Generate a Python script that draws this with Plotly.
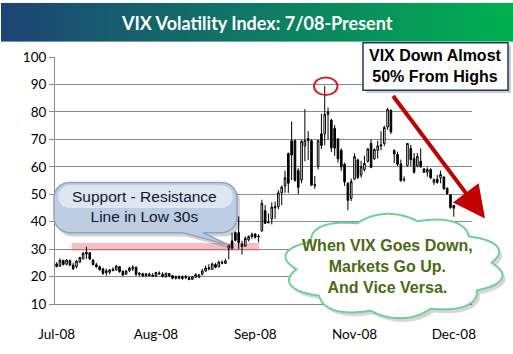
import base64
import numpy as np
import pandas as pd
import plotly.graph_objects as go

# ---------------- data ----------------
holidays = ["2008-07-04", "2008-09-01", "2008-11-27"]
dates = [d for d in pd.bdate_range("2008-07-01", "2008-12-19") if d.strftime("%Y-%m-%d") not in holidays]

open_ = [24.6, 23.8, 25.9, 24.5, 25.8, 24.2, 23.6, 25.3, 26.5, 28.2, 28.7, 26.0, 24.3, 23.6, 22.8, 21.4, 21.6, 22.6, 22.4, 23.6, 21.9, 20.9,
         22.1, 22.8, 23.4, 20.8, 21.0, 20.3, 20.9, 20.5, 20.2, 21.3, 20.8, 19.9, 21.1, 20.3, 19.4, 20.0, 19.3, 19.9, 19.6, 19.0, 19.8,
         19.8, 20.8, 22.0, 23.2, 22.6, 24.4, 23.5, 25.2, 24.8, 30.3, 33.0, 36.0, 36.0, 31.8, 31.2, 33.4, 34.6, 35.5, 34.5, 36.7, 44.0,
         39.6, 41.0, 45.5, 45.5, 50.5, 53.0, 64.8, 69.5, 69.5, 58.6, 55.2, 67.6, 69.5, 69.5, 53.5, 60.0, 72.0, 72.0, 79.1, 77.0, 74.0, 70.1, 66.0,
         60.9, 54.0, 48.5, 55.5, 62.5, 57.0, 59.0, 62.0, 68.5, 63.0, 66.0, 68.0, 68.5, 74.5, 80.5, 66.0, 64.5, 61.0, 55.5,
         60.5, 66.7, 63.0, 60.3, 62.0, 59.2, 58.0, 59.0, 54.3, 55.5, 56.0, 56.3, 52.2, 49.8, 45.9]
high_ = [25.2, 26.6, 26.0, 26.4, 26.2, 25.0, 26.0, 27.2, 29.0, 30.8, 29.0, 26.3, 25.0, 24.0, 23.2, 22.9, 22.8, 23.4, 24.2, 23.8, 22.3, 22.4,
         23.6, 24.2, 23.6, 21.6, 21.4, 21.3, 21.4, 21.2, 21.7, 21.9, 21.6, 21.4, 21.3, 20.6, 20.3, 20.4, 20.4, 20.6, 20.0, 20.2, 21.2,
         21.0, 22.8, 24.0, 24.5, 25.1, 24.9, 25.8, 25.9, 26.5, 31.7, 36.0, 36.4, 41.9, 33.0, 34.6, 35.0, 36.0, 35.8, 35.4, 48.0, 46.0,
         43.0, 47.0, 47.3, 51.5, 53.2, 58.6, 65.2, 76.5, 70.0, 59.5, 69.9, 81.0, 73.0, 70.0, 56.6, 69.8, 79.3, 89.5, 81.6, 77.5, 75.2, 70.5, 66.7,
         61.5, 54.3, 55.7, 64.9, 63.0, 62.2, 64.0, 66.7, 70.0, 66.7, 69.5, 73.0, 75.0, 81.5, 81.0, 66.3, 65.5, 62.6, 56.5,
         68.6, 68.0, 65.0, 65.0, 66.7, 59.5, 59.8, 59.5, 55.7, 57.0, 58.6, 56.5, 52.4, 50.0, 46.0]
low_ = [23.3, 23.5, 24.0, 24.1, 23.8, 22.4, 23.0, 24.9, 26.2, 26.4, 26.0, 24.0, 23.2, 22.2, 20.6, 20.3, 20.8, 21.9, 22.2, 21.4, 20.2, 20.6,
        21.6, 22.0, 20.3, 20.2, 19.9, 19.8, 20.0, 19.9, 19.9, 20.7, 19.7, 19.7, 19.9, 19.0, 18.9, 19.0, 18.8, 19.2, 18.7, 18.8, 19.5,
        19.4, 20.4, 21.8, 22.3, 22.6, 23.0, 23.4, 24.5, 24.6, 26.3, 29.8, 32.8, 30.0, 28.0, 30.8, 32.8, 33.7, 33.9, 32.5, 36.2, 39.2,
        39.4, 39.0, 41.0, 44.6, 46.0, 50.5, 50.5, 55.1, 54.5, 50.0, 54.0, 62.0, 62.5, 53.0, 52.0, 59.0, 66.5, 67.8, 70.0, 65.4, 64.0, 61.5, 58.5,
        53.0, 44.2, 47.5, 55.1, 55.5, 56.0, 58.3, 61.5, 59.5, 62.5, 63.0, 66.0, 67.5, 73.5, 72.0, 61.3, 60.3, 54.6, 54.5,
        60.0, 60.3, 57.5, 59.8, 59.6, 57.8, 56.4, 55.5, 53.4, 53.8, 54.0, 51.6, 49.9, 44.7, 41.8]
close_ = [23.7, 25.9, 24.4, 26.0, 24.2, 22.8, 25.6, 26.9, 28.5, 28.9, 26.4, 24.4, 23.6, 22.5, 21.2, 22.1, 22.4, 22.2, 23.8, 21.8, 20.6, 22.0,
          23.1, 23.4, 20.7, 21.2, 20.3, 21.0, 20.4, 20.2, 21.5, 21.0, 20.0, 21.2, 20.2, 19.4, 20.0, 19.3, 19.9, 19.6, 18.9, 19.9, 20.7,
          20.6, 22.0, 23.1, 22.8, 24.6, 23.4, 25.3, 24.9, 25.7, 31.5, 30.3, 33.2, 32.4, 31.0, 33.9, 34.6, 35.4, 34.3, 34.7, 46.7, 39.4,
          39.8, 45.3, 45.1, 50.5, 52.6, 56.0, 54.0, 64.3, 55.1, 52.5, 69.3, 69.5, 70.3, 53.3, 53.1, 69.5, 67.8, 79.1, 80.0, 66.9, 66.8, 62.9, 59.9,
          54.5, 47.7, 54.6, 63.7, 56.1, 60.0, 61.2, 66.5, 59.8, 66.3, 67.6, 67.6, 74.3, 80.9, 72.7, 64.7, 60.9, 54.9, 55.3,
          68.5, 62.6, 58.0, 63.8, 60.0, 58.0, 59.0, 56.0, 55.3, 54.3, 57.2, 52.0, 50.2, 45.2, 44.9]

tick_idx = [0, 30, 60, 90, 120]
tick_text = [dates[i].strftime("%b-%y") for i in tick_idx]
band_low, band_high = 29.4, 32.2

# ---------------- geometry helpers (pixel -> paper) ----------------
W, H = 513, 354
L, R, T, B = 55, 472, 57, 317


def px(x):
    return (x - L) / (R - L)


def py(y):
    return (B - y) / (B - T)


def poly(points, dx=0, dy=0):
    return "M" + "L".join(f"{px(x + dx):.5f},{py(y + dy):.5f}" for x, y in points) + "Z"


def rrect_points(x0, y0, x1, y1, r, tail=None):
    pts = []
    def arc(cx, cy, a0, a1):
        for a in np.linspace(a0, a1, 10):
            pts.append((cx + r * np.cos(a), cy + r * np.sin(a)))
    arc(x0 + r, y0 + r, np.pi, 1.5 * np.pi)
    arc(x1 - r, y0 + r, 1.5 * np.pi, 2 * np.pi)
    arc(x1 - r, y1 - r, 0, 0.5 * np.pi)
    if tail:
        pts.extend(tail)
    arc(x0 + r, y1 - r, 0.5 * np.pi, np.pi)
    return pts


x = list(range(len(dates)))

fig = go.Figure()
fig.add_trace(go.Candlestick(
    x=x, open=open_, high=high_, low=low_, close=close_,
    increasing=dict(line=dict(color="black", width=1), fillcolor="white"),
    decreasing=dict(line=dict(color="black", width=1), fillcolor="black"),
    whiskerwidth=0, hoverinfo="skip", showlegend=False,
))

shapes = []
# pink support band
shapes.append(dict(type="rect", xref="x", yref="y", x0=4.5, x1=61.2, y0=band_low, y1=band_high,
                   fillcolor="rgba(247,160,165,0.7)", line=dict(width=0), layer="below"))

# callout (support - resistance)
tail = [(203, 242), (229, 255), (183, 242)]
cpts = rrect_points(54, 189, 237, 242, 16, tail)
shapes.append(dict(type="path", xref="paper", yref="paper", path=poly(cpts, 3, 4),
                   fillcolor="rgba(0,0,0,0.18)", line=dict(width=0)))
shapes.append(dict(type="path", xref="paper", yref="paper", path=poly(cpts),
                   fillcolor="#bccde4", line=dict(color="#8ea4c4", width=1.5)))
hpts = rrect_points(58, 192, 233, 216, 12)
shapes.append(dict(type="path", xref="paper", yref="paper", path=poly(hpts),
                   fillcolor="rgba(255,255,255,0.5)", line=dict(width=0)))

# cloud
th = np.linspace(0, 2 * np.pi, 500)
f = 0.88 + 0.12 * np.abs(np.sin(5 * th + 0.35))
cloud = list(zip(394 + 111 * f * np.cos(th), 277 + 55 * f * np.sin(th)))
shapes.append(dict(type="path", xref="paper", yref="paper", path=poly(cloud, 3, 4),
                   fillcolor="rgba(0,0,0,0.16)", line=dict(width=0)))
shapes.append(dict(type="path", xref="paper", yref="paper", path=poly(cloud),
                   fillcolor="white", line=dict(color="#6fcf9c", width=2)))

# top-right box
shapes.append(dict(type="rect", xref="paper", yref="paper", x0=px(366), x1=px(511), y0=py(95), y1=py(45),
                   fillcolor="rgba(0,0,0,0.2)", line=dict(width=0)))
shapes.append(dict(type="rect", xref="paper", yref="paper", x0=px(363), x1=px(508), y0=py(92), y1=py(42),
                   fillcolor="white", line=dict(color="#1f3864", width=1.5)))

# red circle at peak
shapes.append(dict(type="circle", xref="paper", yref="paper", x0=px(314), x1=px(337.5), y0=py(97), y1=py(78.5),
                   line=dict(color="#c8242b", width=2)))

# title gradient band
svg = ("<svg xmlns='http://www.w3.org/2000/svg' width='512' height='41'>"
       "<defs><linearGradient id='g' x1='0' x2='1' y1='0' y2='0'>"
       "<stop offset='0' stop-color='#1d4477'/><stop offset='1' stop-color='#00b050'/>"
       "</linearGradient></defs><rect width='512' height='41' fill='url(#g)'/></svg>")
src = "data:image/svg+xml;base64," + base64.b64encode(svg.encode()).decode()

annotations = [
    dict(text="<b>VIX Volatility Index: 7/08-Present</b>", x=px(257), y=py(21), xref="paper", yref="paper",
         showarrow=False, font=dict(family="Lato", size=18, color="white"), xanchor="center", yanchor="middle"),
    dict(text="<b>VIX Down Almost<br>50% From Highs</b>", x=px(435.5), y=py(66), xref="paper", yref="paper",
         showarrow=False, font=dict(family="Liberation Sans", size=16, color="black"), xanchor="center", yanchor="middle"),
    dict(text="Support - Resistance<br>Line in Low 30s", x=px(144), y=py(214), xref="paper", yref="paper",
         showarrow=False, font=dict(family="Liberation Sans", size=15.5, color="#141432"), xanchor="center", yanchor="middle"),
    dict(text="<b>When VIX Goes Down,<br>Markets Go Up.<br>And Vice Versa.</b>", x=px(387), y=py(278), xref="paper", yref="paper",
         showarrow=False, font=dict(family="Liberation Sans", size=16, color="#4a6a14"), xanchor="center", yanchor="middle"),
    dict(text="", x=px(485), y=py(227), xref="paper", yref="paper", showarrow=True,
         ax=392 - 485, ay=103 - 227, axref="pixel", ayref="pixel",
         arrowhead=2, arrowsize=1.6, arrowwidth=4, arrowcolor="#c00000"),
]

fig.update_layout(
    width=W, height=H,
    margin=dict(l=L, r=W - R, t=T, b=H - B),
    paper_bgcolor="white", plot_bgcolor="white",
    shapes=shapes, annotations=annotations,
    images=[dict(source=src, xref="paper", yref="paper", x=px(1), y=py(0), sizex=512 / (R - L), sizey=41 / (B - T),
                 xanchor="left", yanchor="top", sizing="stretch", layer="above")],
    xaxis=dict(range=[-0.5, 125.5], tickmode="array", tickvals=tick_idx, ticktext=tick_text,
               showgrid=False, zeroline=False, showline=True, linecolor="#8c8c8c", linewidth=1,
               ticks="outside", ticklen=18, tickcolor="rgba(0,0,0,0)",
               tickfont=dict(family="Lato", size=13.5, color="black"), rangeslider=dict(visible=False)),
    yaxis=dict(range=[10, 100], dtick=10, tick0=0, showgrid=True, gridcolor="#8c8c8c", gridwidth=1,
               zeroline=False, showline=True, linecolor="#8c8c8c", linewidth=1,
               ticks="outside", ticklen=5, tickcolor="#8c8c8c",
               tickfont=dict(family="Lato", size=13.5, color="black")),
)

fig.write_html("out.html")
